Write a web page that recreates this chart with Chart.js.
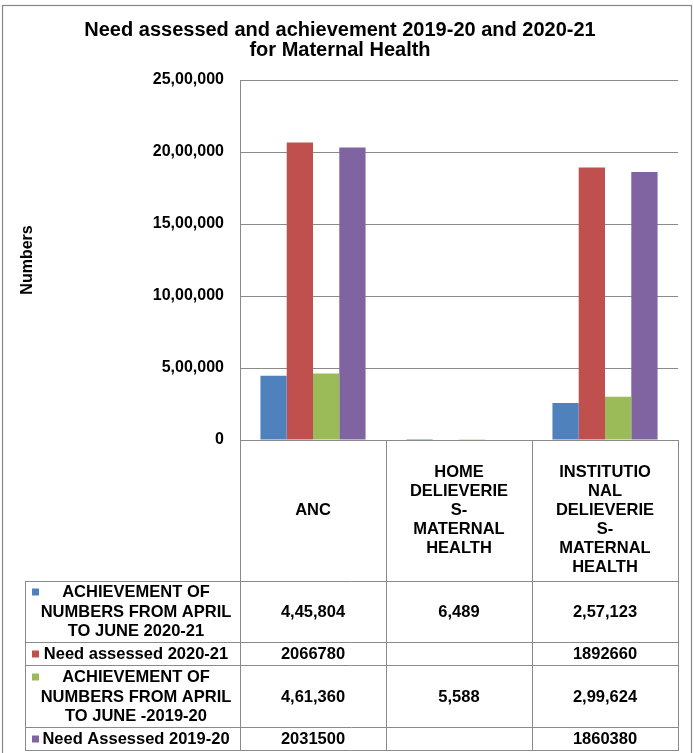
<!DOCTYPE html>
<html>
<head>
<meta charset="utf-8">
<script src="https://cdn.jsdelivr.net/npm/chart.js@4/dist/chart.umd.min.js"></script>
<style>
  body { margin: 0; background: #fff; }
  #wrap { width: 694px; height: 753px; }
</style>
</head>
<body>
<div id="wrap"><canvas id="myChart" width="694" height="753"></canvas></div>
<script>
const titleLines = ["Need assessed and achievement 2019-20 and 2020-21", "for Maternal Health"];
const categories = [
    ["ANC"],
    ["HOME", "DELIEVERIE", "S-", "MATERNAL", "HEALTH"],
    ["INSTITUTIO", "NAL", "DELIEVERIE", "S-", "MATERNAL", "HEALTH"]
];
const yTickLabels = ["0", "5,00,000", "10,00,000", "15,00,000", "20,00,000", "25,00,000"];

const seriesNames = [
    ["ACHIEVEMENT OF", "NUMBERS FROM APRIL", "TO JUNE 2020-21"],
    ["Need assessed 2020-21"],
    ["ACHIEVEMENT OF", "NUMBERS FROM APRIL", "TO JUNE -2019-20"],
    ["Need Assessed 2019-20"]
];
const achievement2021 = [445804, 6489, 257123];
const need2021 = [2066780, null, 1892660];
const achievement1920 = [461360, 5588, 299624];
const need1920 = [2031500, null, 1860380];
const seriesValues = [achievement2021, need2021, achievement1920, need1920];
const commaSeries = [true, false, true, false];

const colors = ["#4F81BD", "#C0504D", "#9BBB59", "#8064A2"];
const FONT = '"Liberation Sans", Arial, sans-serif';
const lineGray = "#8a8a8a";

// indian style grouping: 4,45,804
function fmtIN(n) {
    const s = String(n);
    if (s.length <= 3) return s;
    const rest = s.slice(0, -3).replace(/\B(?=(\d{2})+(?!\d))/g, ",");
    return rest + "," + s.slice(-3);
}

const frame = {
    id: "frame",
    beforeDraw(chart) {
        const ctx = chart.ctx;
        ctx.save();
        ctx.strokeStyle = "#878787";
        ctx.lineWidth = 1.2;
        ctx.strokeRect(2.5, 5.5, 689, 770);
        ctx.restore();
    }
};

const dataTable = {
    id: "dataTable",
    afterDraw(chart) {
        const ctx = chart.ctx;
        const area = chart.chartArea;
        const x = chart.scales.x;
        const half = (x.getPixelForValue(1) - x.getPixelForValue(0)) / 2;
        const edges = [area.left];
        categories.forEach((c, i) => edges.push(x.getPixelForValue(i) + half));
        const tableLeft = 25;
        const headTop = area.bottom;
        const headBottom = 581;
        const lh = 19.5;

        // row extents
        const rows = [];
        let y = headBottom;
        seriesNames.forEach(n => {
            const h = n.length * lh + 3.5;
            rows.push([y, y + h]);
            y += h;
        });
        const tableBottom = y;

        ctx.save();
        ctx.strokeStyle = lineGray;
        ctx.lineWidth = 1;
        ctx.beginPath();
        edges.forEach(ex => {
            ctx.moveTo(Math.round(ex) + 0.5, headTop);
            ctx.lineTo(Math.round(ex) + 0.5, tableBottom);
        });
        ctx.moveTo(tableLeft + 0.5, headBottom);
        ctx.lineTo(tableLeft + 0.5, tableBottom);
        ctx.moveTo(tableLeft, Math.round(headBottom) + 0.5);
        ctx.lineTo(area.right, Math.round(headBottom) + 0.5);
        rows.forEach(r => {
            ctx.moveTo(tableLeft, Math.round(r[1]) - 0.5);
            ctx.lineTo(area.right, Math.round(r[1]) - 0.5);
        });
        ctx.stroke();

        ctx.fillStyle = "#000";
        ctx.font = "bold 16.5px " + FONT;
        ctx.textAlign = "center";
        ctx.textBaseline = "middle";

        // category header cells
        const headMid = (headTop + headBottom) / 2;
        categories.forEach((lines, i) => {
            const cx = x.getPixelForValue(i);
            const first = Math.max(headMid - (lines.length - 1) * 19 / 2, headTop + 32);
            lines.forEach((t, k) => ctx.fillText(t, cx, first + k * 19));
        });

        // series rows
        seriesNames.forEach((lines, s) => {
            const [top, bot] = rows[s];
            const mid = (top + bot) / 2;
            const first = mid - (lines.length - 1) * lh / 2;
            ctx.fillStyle = colors[s];
            ctx.fillRect(32, first - 4, 7, 7);
            ctx.fillStyle = "#000";
            lines.forEach((t, k) => ctx.fillText(t, 136, first + k * lh));
            seriesValues[s].forEach((v, i) => {
                if (v === null) return;
                const txt = commaSeries[s] ? fmtIN(v) : String(v);
                ctx.fillText(txt, x.getPixelForValue(i), mid);
            });
        });
        ctx.restore();
    }
};

function createChart() {
    const el = document.getElementById("myChart").getContext("2d");
    return new Chart(el, {
        type: "bar",
        data: {
            labels: categories,
            datasets: seriesValues.map((d, i) => ({
                label: seriesNames[i].join(" "),
                data: d,
                backgroundColor: colors[i],
                borderWidth: 0,
                categoryPercentage: 0.72,
                barPercentage: 1.0
            }))
        },
        options: {
            responsive: false,
            animation: false,
            layout: { padding: { top: 10, left: 2, right: 16, bottom: 313 } },
            plugins: {
                legend: { display: false },
                tooltip: { enabled: false },
                title: {
                    display: true,
                    text: titleLines,
                    color: "#000",
                    font: { family: FONT, size: 20, weight: "bold", lineHeight: 1.0 },
                    padding: { top: 10, bottom: 20 }
                }
            },
            scales: {
                x: { display: false },
                y: {
                    min: 0,
                    max: 2500000,
                    ticks: {
                        stepSize: 500000,
                        color: "#000",
                        padding: 16,
                        font: { family: FONT, size: 16, weight: "bold" },
                        callback: (v, i) => yTickLabels[i]
                    },
                    grid: { color: lineGray, lineWidth: 1, drawTicks: false },
                    border: { color: lineGray },
                    title: {
                        display: true,
                        text: "Numbers",
                        color: "#000",
                        font: { family: FONT, size: 16, weight: "bold" },
                        padding: { top: 16, bottom: 0 }
                    },
                    afterFit(scale) { scale.width = 238; }
                }
            }
        },
        plugins: [frame, dataTable]
    });
}

createChart();
</script>
</body>
</html>
